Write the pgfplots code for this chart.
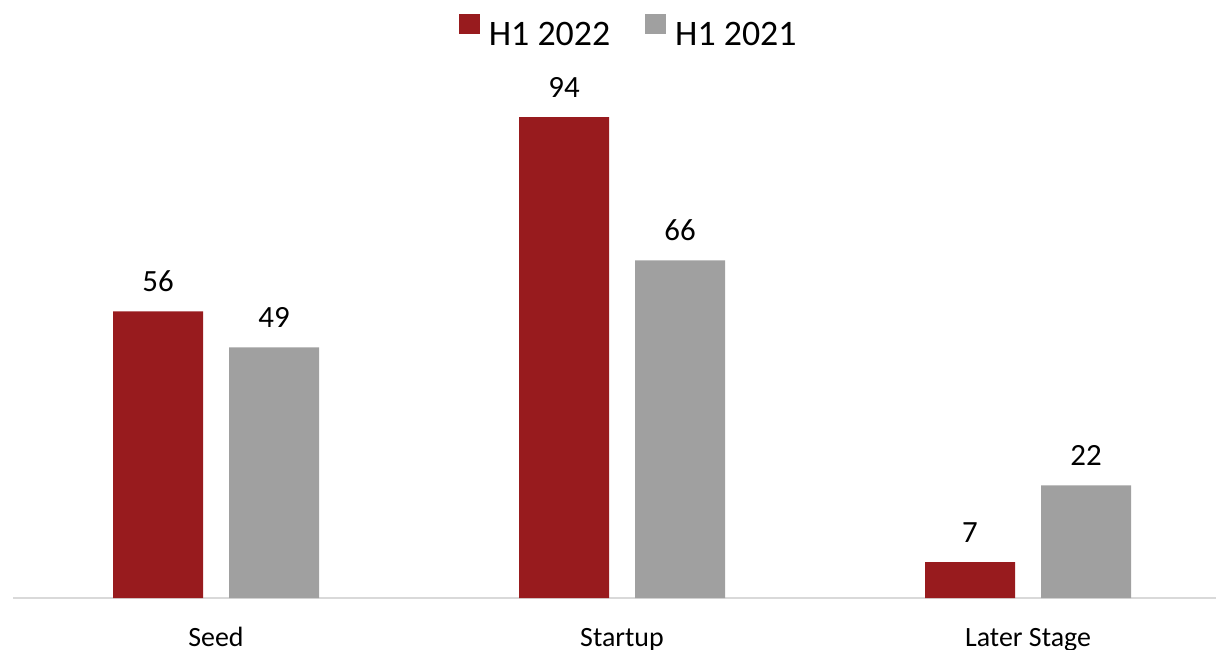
\documentclass[border=0pt]{standalone}
\usepackage{fontspec}
\setmainfont{Carlito}
\usepackage{pgfplots}
\pgfplotsset{compat=1.18}
\definecolor{cred}{RGB}{152,27,30}
\definecolor{cgray}{RGB}{160,160,160}
\definecolor{caxis}{RGB}{217,217,217}
\pgfplotsset{mylegend/.style={legend image code/.code={\fill[##1] (0bp,0.5bp) rectangle (21bp,20.5bp);}}}
\begin{document}
\begin{tikzpicture}
\useasboundingbox (0,0) rectangle (1216bp,650bp);
\begin{axis}[
 at={(13bp,52bp)}, anchor=south west,
 scale only axis, width=1203bp, height=598bp,
 xmin=-0.5, xmax=2.463, ymin=0, ymax=116.87,
 ybar=26bp, bar width=90bp,
 axis x line*=bottom, axis y line=none,
 x axis line style={draw=caxis, line width=1.5bp},
 xtick={0,1,2}, xticklabels={Seed,Startup,Later Stage},
 major tick length=0pt,
 xticklabel style={font=\fontsize{28}{34}\selectfont, anchor=base, yshift=-48bp},
 nodes near coords,
 nodes near coords style={font=\fontsize{31}{37}\selectfont, anchor=base, yshift=20bp, inner sep=0pt, text=black},
 /pgf/number format/assume math mode=true,
 legend style={at={(0.511,0.9766)}, anchor=north, draw=none, fill=none, inner sep=0pt,
   font=\fontsize{36}{43}\selectfont, nodes={inner sep=0pt},
   /tikz/every odd column/.style={column sep=9bp},
   /tikz/every even column/.style={column sep=35bp}},
 legend columns=2,
 clip=false,
]
\addplot[fill=cred, draw=none, mylegend] coordinates {(0,56) (1,94) (2,7)};
\addplot[fill=cgray, draw=none, mylegend] coordinates {(0,49) (1,66) (2,22)};
\legend{H1 2022, H1 2021}
\end{axis}
\end{tikzpicture}
\end{document}
